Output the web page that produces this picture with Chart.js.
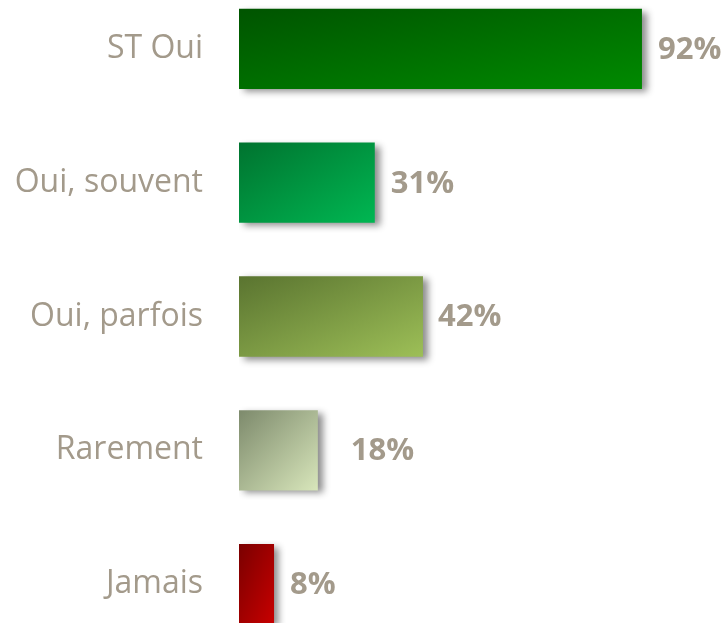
<!DOCTYPE html>
<html>
<head>
<meta charset="utf-8">
<script src="https://cdn.jsdelivr.net/npm/chart.js@4.4.1/dist/chart.umd.min.js"></script>
<style>
  html, body { margin: 0; padding: 0; background: #fff; overflow: hidden; width: 725px; height: 623px; }
  #chart { position: absolute; left: 0; top: -18px; }
</style>
</head>
<body>
<canvas id="chart" width="725" height="669"></canvas>
<script>
const categories = ['ST Oui', 'Oui, souvent', 'Oui, parfois', 'Rarement', 'Jamais'];
const values = [92, 31, 42, 18, 8];
const darkColors = ['#005400', '#00732f', '#5a7430', '#7d8a6c', '#7a0000'];
const lightColors = ['#008a00', '#00b752', '#9dbf57', '#d8e6bb', '#c80000'];

const TEXT_COLOR = '#a39a8b';
const FONT = '"Open Sans", "Liberation Sans", sans-serif';

// diagonal gradient that scales with the bar (isolines along the anti-diagonal)
function barGradient(context) {
  const chart = context.chart;
  const { ctx, chartArea, scales } = chart;
  const i = context.dataIndex;
  if (!chartArea || !scales.x || !scales.y) return darkColors[i];
  const x0 = scales.x.getPixelForValue(0);
  const x1 = scales.x.getPixelForValue(values[i]);
  const yc = scales.y.getPixelForValue(i);
  const h = 80;
  const w = x1 - x0;
  const top = yc - h / 2;
  const t = (2 * w * h) / (w * w + h * h);
  const g = ctx.createLinearGradient(x0, top, x0 + t * h, top + t * w);
  g.addColorStop(0, darkColors[i]);
  g.addColorStop(1, lightColors[i]);
  return g;
}

const shadowPlugin = {
  id: 'barShadow',
  beforeDatasetDraw(chart) {
    const ctx = chart.ctx;
    ctx.save();
    ctx.shadowColor = 'rgba(0, 0, 0, 0.45)';
    ctx.shadowBlur = 7;
    ctx.shadowOffsetX = 5;
    ctx.shadowOffsetY = 3;
  },
  afterDatasetDraw(chart) {
    chart.ctx.restore();
  }
};

// value labels, a little further out for "Rarement" like in the source
const labelGap = [16, 16, 15, 33, 16];
const valueLabels = {
  id: 'valueLabels',
  afterDatasetsDraw(chart) {
    const ctx = chart.ctx;
    const meta = chart.getDatasetMeta(0);
    ctx.save();
    ctx.fillStyle = TEXT_COLOR;
    ctx.font = 'bold 31px ' + FONT;
    ctx.textAlign = 'left';
    ctx.textBaseline = 'middle';
    meta.data.forEach((bar, i) => {
      ctx.fillText(values[i] + '%', bar.x + labelGap[i], bar.y + 1);
    });
    ctx.restore();
  }
};

new Chart(document.getElementById('chart'), {
  type: 'bar',
  data: {
    labels: categories,
    datasets: [{
      data: values,
      backgroundColor: barGradient,
      borderWidth: 0,
      barPercentage: 0.6,
      categoryPercentage: 1,
    }],
  },
  plugins: [shadowPlugin, valueLabels],
  options: {
    indexAxis: 'y',
    responsive: false,
    animation: false,
    layout: { padding: { left: 0, right: 48, top: 0, bottom: 0 } },
    plugins: {
      legend: { display: false },
      tooltip: { enabled: false },
    },
    scales: {
      x: {
        display: false,
        min: 0,
        max: 100,
      },
      y: {
        afterFit(scale) {
          scale.width = 239;
          scale.paddingTop = 0;
          scale.paddingBottom = 0;
        },
        grid: { display: false, drawTicks: false },
        border: { display: false },
        ticks: {
          color: TEXT_COLOR,
          padding: 36,
          font: { family: FONT, size: 32 },
        },
      },
    },
  },
});
</script>
</body>
</html>
